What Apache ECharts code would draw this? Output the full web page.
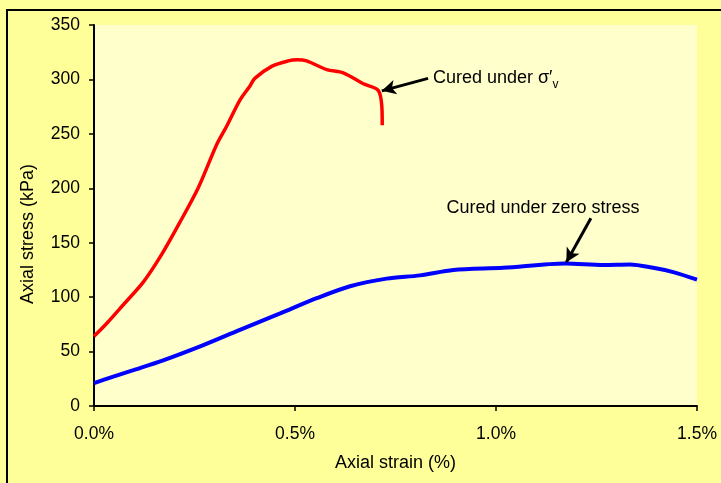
<!DOCTYPE html>
<html><head><meta charset="utf-8">
<script src="https://cdn.jsdelivr.net/npm/echarts@6/dist/echarts.min.js"></script>
<style>html,body{margin:0;padding:0;background:#FFFF99;}#c{width:721px;height:483px;}</style>
</head><body><div id="c"></div>
<script>
// strain (%), stress (kPa)
const curedSigmaStrain = [0, 0.032, 0.073, 0.123, 0.168, 0.214, 0.26, 0.305, 0.33, 0.363, 0.388, 0.40, 0.442, 0.483, 0.505, 0.529, 0.579, 0.62, 0.67, 0.707, 0.716, 0.717];
const curedSigmaStress = [64, 76, 93, 114, 139, 169, 201, 240, 257, 281, 294, 301, 312, 317, 318, 317, 309, 306, 296, 290, 275, 258];
const curedZeroStrain = [0, 0.048, 0.098, 0.172, 0.272, 0.363, 0.463, 0.554, 0.637, 0.728, 0.811, 0.894, 1.018, 1.172, 1.267, 1.333, 1.391, 1.441, 1.5];
const curedZeroStress = [21, 27, 33, 42, 56, 70, 85, 99, 110, 117, 120, 125, 127, 131, 129.5, 130, 127, 123, 116];
const xTicks = [0, 0.5, 1.0, 1.5];
const yTicks = [0, 50, 100, 150, 200, 250, 300, 350];

const zip = (a, b) => a.map((v, i) => [v, b[i]]);
const font = 'Liberation Sans, Arial, sans-serif';
const chart = echarts.init(document.getElementById('c'), null, {renderer: 'canvas'});
chart.setOption({
  backgroundColor: '#FFFF99',
  animation: false,
  graphic: [
    {type: 'rect', shape: {x: 7, y: 10, width: 730, height: 490}, style: {fill: 'none', stroke: '#000', lineWidth: 2}, z: 100},
    {type: 'text', x: 28, y: 234, rotation: Math.PI / 2, style: {text: 'Axial stress (kPa)', font: '18px Liberation Sans, Arial, sans-serif', fill: '#000', align: 'center', verticalAlign: 'middle'}}
  ],
  grid: {left: 94, top: 25, right: 24, bottom: 77, show: true, backgroundColor: '#FFFFCC', borderWidth: 0},
  xAxis: {
    type: 'value', min: xTicks[0], max: xTicks[xTicks.length - 1], interval: 0.5,
    name: 'Axial strain (%)', nameLocation: 'middle', nameGap: 48,
    nameTextStyle: {fontFamily: font, fontSize: 18, color: '#000'},
    axisLine: {show: true, lineStyle: {color: '#000', width: 2}},
    axisTick: {show: true, inside: false, length: 5, lineStyle: {color: '#000', width: 1.5}},
    axisLabel: {fontFamily: font, fontSize: 17.5, color: '#000', margin: 19, formatter: v => v.toFixed(1) + '%'},
    splitLine: {show: false}
  },
  yAxis: {
    type: 'value', min: yTicks[0], max: yTicks[yTicks.length - 1], interval: 50,
    axisLine: {show: true, lineStyle: {color: '#000', width: 2}},
    axisTick: {show: true, inside: false, length: 5, lineStyle: {color: '#000', width: 1.5}},
    axisLabel: {fontFamily: font, fontSize: 17.5, color: '#000', margin: 14},
    splitLine: {show: false}
  },
  series: [
    {
      type: 'line', name: 'Cured under σ′v', data: zip(curedSigmaStrain, curedSigmaStress),
      showSymbol: false, smooth: 0.3, lineStyle: {color: '#FF0000', width: 3.5},
      markLine: {
        silent: true, symbol: ['none', 'arrow'], symbolSize: [11, 14],
        lineStyle: {color: '#000', width: 3, type: 'solid'}, label: {show: false},
        data: [[{coord: [0.831, 301]}, {coord: [0.716, 289.5]}]]
      },
      markPoint: {
        symbol: 'circle', symbolSize: 0,
        data: [{coord: [0.843, 301], label: {show: true, position: 'right', distance: 0,
          formatter: '{a|Cured under σ′}{b|v}',
          rich: {a: {fontFamily: font, fontSize: 18, color: '#000'}, b: {fontFamily: font, fontSize: 12, color: '#000', padding: [12, 0, 0, 0]}}}}]
      }
    },
    {
      type: 'line', name: 'Cured under zero stress', data: zip(curedZeroStrain, curedZeroStress),
      showSymbol: false, smooth: 0.3, lineStyle: {color: '#0000FF', width: 4},
      markLine: {
        silent: true, symbol: ['none', 'arrow'], symbolSize: [11, 14],
        lineStyle: {color: '#000', width: 3, type: 'solid'}, label: {show: false},
        data: [[{coord: [1.236, 172.5]}, {coord: [1.175, 132]}]]
      },
      markPoint: {
        symbol: 'circle', symbolSize: 0,
        data: [{coord: [1.117, 182], label: {show: true, position: 'inside',
          formatter: 'Cured under zero stress', fontFamily: font, fontSize: 18, color: '#000'}}]
      }
    }
  ]
});
</script></body></html>
